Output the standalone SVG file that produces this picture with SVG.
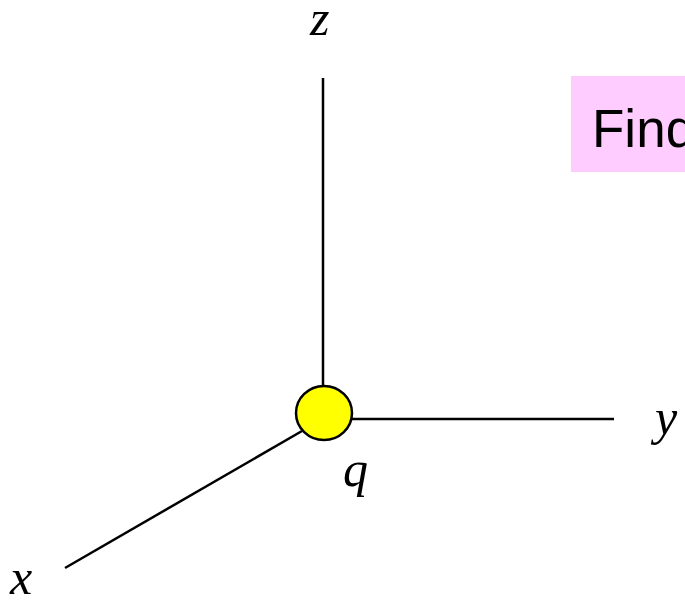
<svg xmlns="http://www.w3.org/2000/svg" width="685" height="601" viewBox="0 0 685 601">
<style>
.axis{stroke:#000;stroke-width:2.5;fill:none}
.lbl{font-family:"Liberation Serif",serif;font-style:italic;font-size:50px;fill:#000}
</style>
<rect width="685" height="601" fill="#fff"/>
<g id="connectors">
<line class="axis" x1="323" y1="78" x2="323" y2="388"/>
<line class="axis" x1="350" y1="419" x2="614" y2="419"/>
<line class="axis" x1="302" y1="431" x2="65" y2="568"/>
</g>
<g id="node-q">
<ellipse cx="324" cy="413" rx="28" ry="27" fill="#ffff00" stroke="#000" stroke-width="2.5"/>
<text class="lbl" x="343" y="486">q</text>
</g>
<g id="label-z"><text class="lbl" x="310" y="35">z</text></g>
<g id="label-y"><text class="lbl" x="655" y="434">y</text></g>
<g id="label-x"><text class="lbl" x="10" y="594">x</text></g>
<g id="find-box">
<rect x="571" y="76" width="114" height="96" fill="#ffccff"/>
<text x="592" y="147" font-family="Liberation Sans,Arial,sans-serif" font-size="53" fill="#000">Find</text>
</g>
</svg>
